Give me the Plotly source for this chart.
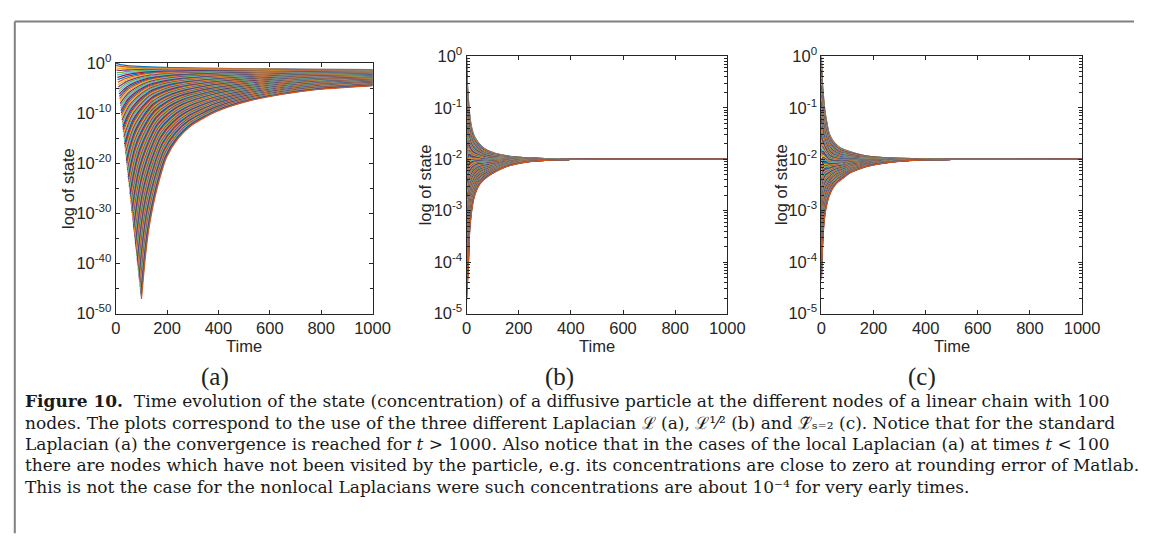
import numpy as np
import plotly.graph_objects as go

N_NODES = 100
MATLAB_COLORS = ["#0072BD", "#D95319", "#EDB120", "#7E2F8E", "#77AC30", "#4DBEEE", "#A2142F"]

# ---------- panel (a): standard Laplacian (log10 of state) ----------
# upper envelope = first node, lower envelope = last node; points paired by index
a_upper_t = [0, 17, 30, 44, 73, 108, 158, 214, 328, 469, 611, 752, 1000]
a_upper_log = [0, -0.30, -0.40, -0.50, -0.62, -0.72, -0.82, -0.90, -1.02, -1.12, -1.19, -1.25, -1.30]
a_lower_t = [100, 115, 127, 140, 166, 197, 242, 293, 395, 522, 650, 777, 1000]
a_lower_log = [-47.1, -38.8, -33.7, -29.8, -24.0, -18.9, -15.1, -12.5, -9.6, -7.5, -6.2, -5.3, -4.5]

# ---------- panel (b): L^{1/2} ----------
b_t = [0, 1, 2, 4, 6, 9, 12, 16, 20, 27, 37, 50, 62, 80, 112, 140, 175, 237, 300, 400, 500, 1000]
b_upper_log = [0, -0.25, -0.40, -0.62, -0.78, -0.98, -1.15, -1.30, -1.40, -1.52, -1.62, -1.71,
               -1.77, -1.83, -1.89, -1.92, -1.95, -1.975, -1.99, -2.0, -2.0, -2.0]
b_lower_log = [-4.75, -4.60, -4.50, -4.35, -4.20, -3.70, -3.36, -3.15, -2.98, -2.78, -2.62, -2.49,
               -2.42, -2.34, -2.24, -2.17, -2.11, -2.05, -2.025, -2.005, -2.0, -2.0]

# ---------- panel (c): L~_{s=2} ----------
c_t = [0, 1, 2, 4, 6, 9, 12, 16, 20, 27, 37, 50, 62, 80, 112, 140, 175, 237, 300, 400, 500, 1000]
c_upper_log = [0, -0.20, -0.35, -0.52, -0.65, -0.85, -1.00, -1.15, -1.26, -1.45, -1.58, -1.68,
               -1.74, -1.80, -1.86, -1.90, -1.94, -1.97, -1.985, -1.995, -2.0, -2.0]
c_lower_log = [-4.35, -4.20, -4.00, -3.75, -3.55, -3.30, -3.15, -3.00, -2.90, -2.76, -2.63, -2.52,
               -2.45, -2.38, -2.26, -2.20, -2.14, -2.08, -2.04, -2.015, -2.005, -2.0]

x_ticks = [0, 200, 400, 600, 800, 1000]
panel_labels = ["(a)", "(b)", "(c)"]
caption_lines = [
    "<b>Figure 10.</b>  Time evolution of the state (concentration) of a diffusive particle at the different nodes of a linear chain with 100",
    "nodes. The plots correspond to the use of the three different Laplacian \u2112 (a), \u2112\u00b9\u2044\u00b2 (b) and \u2112\u0303\u209b\u208c\u2082 (c). Notice that for the standard",
    "Laplacian (a) the convergence is reached for <i>t</i> &gt; 1000. Also notice that in the cases of the local Laplacian (a) at times <i>t</i> &lt; 100",
    "there are nodes which have not been visited by the particle, e.g. its concentrations are close to zero at rounding error of Matlab.",
    "This is not the case for the nonlocal Laplacians were such concentrations are about 10\u207b\u2074 for very early times.",
]

W, H = 1152, 547


def X(p):
    return p / W


def Y(p):
    return 1 - p / H


fig = go.Figure()

line_style = dict(width=1.3, shape="spline", smoothing=0.7)

# panel (a)
for k in range(N_NODES):
    f = k / (N_NODES - 1)
    t = [(1 - f) * tu + f * tl for tu, tl in zip(a_upper_t, a_lower_t)]
    ly = [(1 - f) * u + f * l for u, l in zip(a_upper_log, a_lower_log)]
    fig.add_trace(go.Scatter(x=t, y=[10 ** v for v in ly], mode="lines",
                             line=dict(color=MATLAB_COLORS[k % 7], **line_style),
                             hoverinfo="skip", showlegend=False, xaxis="x", yaxis="y"))

# panels (b), (c)
for (tt, up, lo, xa, ya_) in [(b_t, b_upper_log, b_lower_log, "x2", "y2"),
                              (c_t, c_upper_log, c_lower_log, "x3", "y3")]:
    for k in range(N_NODES):
        f = k / (N_NODES - 1)
        ly = [(1 - f) * u + f * l for u, l in zip(up, lo)]
        fig.add_trace(go.Scatter(x=tt, y=[10 ** v for v in ly], mode="lines",
                                 line=dict(color=MATLAB_COLORS[k % 7], **line_style),
                                 hoverinfo="skip", showlegend=False, xaxis=xa, yaxis=ya_))

AX = "#262626"
tickfont = dict(family="Liberation Sans, Arial, sans-serif", size=16.5, color=AX)

common_x = dict(range=[0, 1000], tickmode="array", tickvals=x_ticks, ticktext=[str(v) for v in x_ticks],
                ticks="inside", ticklen=4, tickcolor=AX, showline=True, linecolor=AX,
                linewidth=1, mirror="ticks", showgrid=False, zeroline=False,
                tickfont=tickfont)


def ylog(lo, step_label, minor_vals):
    vals = list(range(lo, 1, step_label))
    return dict(type="log", range=[lo, 0], tickmode="array", tickvals=[10.0 ** v for v in vals],
                ticktext=["10<sup>%d</sup>" % v for v in vals],
                ticks="inside", ticklen=4, tickcolor=AX, showline=True, linecolor=AX,
                linewidth=1, mirror="ticks", showgrid=False, zeroline=False, tickfont=tickfont,
                minor=dict(tickmode="array", tickvals=minor_vals, ticks="inside",
                           ticklen=3, tickcolor=AX, showgrid=False))


ya = ylog(-50, 10, [10.0 ** v for v in range(-45, 0, 10)])
log_minor = [m * 10.0 ** d for d in range(-5, 0) for m in range(2, 10)]
yb = ylog(-5, 1, log_minor)
yc = ylog(-5, 1, log_minor)

# axes boxes in page pixels: (left, right, top, bottom)
dom_a = (113, 375, 54, 314)
dom_b = (471, 737, 47, 314)
dom_c = (833, 1099, 47, 314)


def xd(d):
    return [X(d[0]), X(d[1])]


def yd(d):
    return [Y(d[3]), Y(d[2])]


fig.update_layout(
    width=W, height=H, margin=dict(l=0, r=0, t=0, b=0), autosize=False,
    paper_bgcolor="white", plot_bgcolor="white",
    xaxis=dict(domain=xd(dom_a), anchor="y", **common_x),
    yaxis=dict(domain=yd(dom_a), anchor="x", **ya),
    xaxis2=dict(domain=xd(dom_b), anchor="y2", **common_x),
    yaxis2=dict(domain=yd(dom_b), anchor="x2", **yb),
    xaxis3=dict(domain=xd(dom_c), anchor="y3", **common_x),
    yaxis3=dict(domain=yd(dom_c), anchor="x3", **yc),
    showlegend=False,
)

labfont = dict(family="Liberation Sans, Arial, sans-serif", size=16.5, color=AX)
ann = []
for d, ylab_x in [(dom_a, 65), (dom_b, 428), (dom_c, 792)]:
    ann.append(dict(text="Time", x=X((d[0] + d[1]) / 2), y=Y(348), xref="paper", yref="paper",
                    showarrow=False, font=labfont, xanchor="center", yanchor="middle"))
    ann.append(dict(text="log of state", x=X(ylab_x), y=Y((d[2] + d[3]) / 2), xref="paper",
                    yref="paper", showarrow=False, font=labfont, textangle=-90,
                    xanchor="center", yanchor="middle"))
for lab, cx in zip(panel_labels, [214, 566, 936]):
    ann.append(dict(text=lab, x=X(cx), y=Y(380), xref="paper", yref="paper",
                    showarrow=False, xanchor="center", yanchor="middle",
                    font=dict(family="Liberation Serif, Times New Roman, serif", size=25, color="#222")))
for i, line in enumerate(caption_lines):
    ann.append(dict(text=line, x=X(18), y=Y(405 + 22.2 * i), xref="paper", yref="paper",
                    showarrow=False, xanchor="left", yanchor="middle", align="left",
                    font=dict(family="DejaVu Serif, Liberation Serif, serif", size=17, color="#1a1a1a")))
fig.update_layout(annotations=ann)

fig.add_shape(type="line", xref="paper", yref="paper", x0=X(10), x1=1.0, y0=Y(11), y1=Y(11),
              line=dict(color="#808080", width=2))
fig.add_shape(type="line", xref="paper", yref="paper", x0=X(10), x1=X(10), y0=Y(11), y1=Y(542),
              line=dict(color="#808080", width=2))

fig.write_html("out.html")
